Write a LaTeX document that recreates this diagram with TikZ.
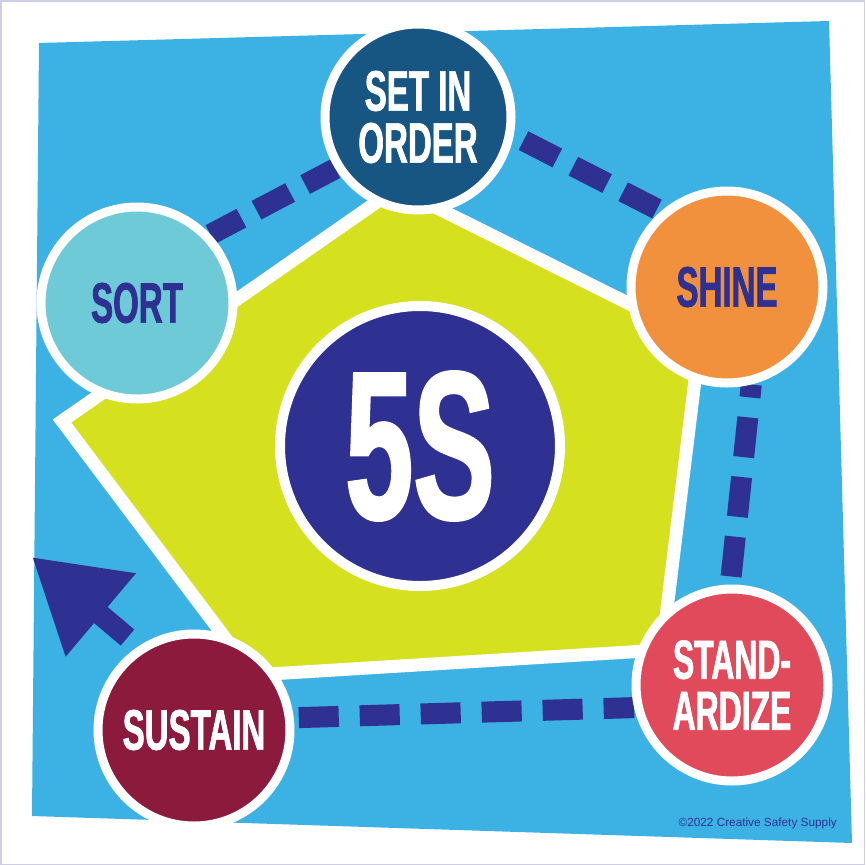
\documentclass[tikz,border=0pt]{standalone}
\usepackage{fontspec}
\usetikzlibrary{arrows.meta,calc,backgrounds}
\newfontfamily\capfont{Liberation Sans}[FakeStretch=0.58,FakeBold=1.2]
\newfontfamily\notefont{Liberation Sans}
\definecolor{skyblue}{RGB}{59,178,227}
\definecolor{limey}{RGB}{213,224,31}
\definecolor{indigo}{RGB}{46,49,146}
\definecolor{navyblue}{RGB}{23,85,131}
\definecolor{aqua}{RGB}{110,202,214}
\definecolor{orangey}{RGB}{242,145,61}
\definecolor{coral}{RGB}{224,74,90}
\definecolor{maroon}{RGB}{139,26,61}
\definecolor{framegray}{RGB}{205,205,228}

\begin{document}
\begin{tikzpicture}[x=1pt,y=-1pt,every node/.style={circle,draw=white,inner sep=0pt,align=center}]
\tikzstyle{stepdisc}=[line width=9pt,minimum size=192pt]
\tikzstyle{word}=[font=\capfont\bfseries\fontsize{57}{52}\selectfont]
\tikzstyle{dashes}=[draw=indigo,line width=21pt]

\useasboundingbox (0,0) rectangle (865,865);

\node (sort) [stepdisc,word,fill=aqua,text=indigo] at (137,303) {SORT};
\node (order) [stepdisc,word,fill=navyblue,text=white,minimum size=186pt] at (418,117) {SET IN\\ORDER};
\node (shine) [stepdisc,word,fill=orangey,text=indigo] at (727,287) {SHINE};
\node (standard) [stepdisc,word,fill=coral,text=white,font=\capfont\bfseries\fontsize{55}{51}\selectfont] at (732,685) {STAND-\\ARDIZE};
\node (sustain) [stepdisc,word,fill=maroon,text=white] at (194,730) {SUSTAIN};
\node (five) [fill=indigo,line width=10pt,minimum size=280pt,text=white,font=\capfont\bfseries\fontsize{211}{211}\selectfont] at (420,446) {5S};

\node (credit) [draw=none,rectangle,anchor=base east,text=indigo,font=\notefont\fontsize{11.8}{12}\selectfont] at (837,826) {©2022 Creative Safety Supply};

\coordinate (tail) at (127.5,637.5);
\coordinate (tip) at (32,557);

\begin{scope}[on background layer]
\fill[white] (0,0) rectangle (865,865);
\draw[framegray,line width=1.5pt] (0.75,0.75) rectangle (864.25,864.25);
\fill[skyblue] (39,43) -- (829,21) -- (852,843) -- (32,816) -- cycle;

% pentagon behind the steps
\filldraw[fill=limey,draw=white,line width=13pt,line join=miter] (62,421) -- (397,188) -- (700,339) -- (662,650) -- (253,675) -- cycle;

\draw [dashes,dash pattern=on 38pt off 17pt,dash phase=3pt] (sort.43) -- (order.212);
\draw [dashes,dash pattern=on 38pt off 18pt,dash phase=45pt] (order.-11) -- (shine.131);
\draw [dashes,dash pattern=on 40pt off 20pt,dash phase=27pt] (shine.-76) -- (standard.91);
\draw [dashes,dash pattern=on 40pt off 21pt,dash phase=56pt] (sustain.7) -- (standard.193);

\draw [indigo,line width=21pt,-{Triangle[length=90pt,width=103pt]}] (tail) -- (tip);
\end{scope}
\end{tikzpicture}
\end{document}
